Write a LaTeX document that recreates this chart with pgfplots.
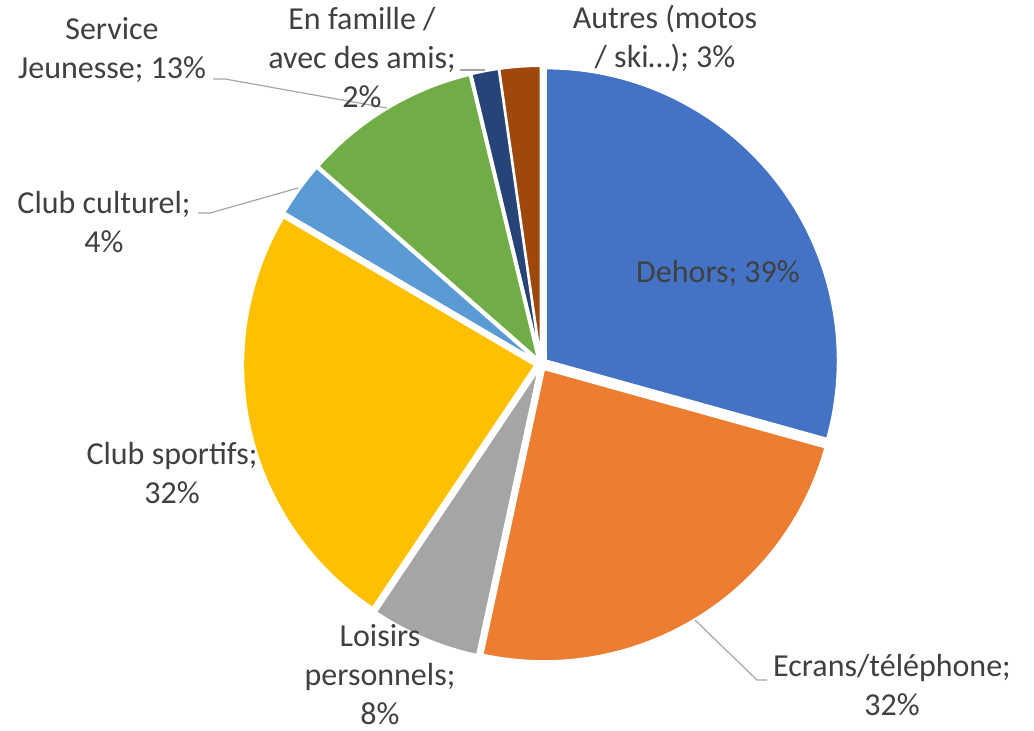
\documentclass[border=0pt]{standalone}
\usepackage{fontspec}
\setmainfont{Carlito}
\usepackage{pgfplots}
\pgfplotsset{compat=1.18}
\definecolor{pieA}{HTML}{4472C4}
\definecolor{pieB}{HTML}{ED7D31}
\definecolor{pieC}{HTML}{A5A5A5}
\definecolor{pieD}{HTML}{FFC000}
\definecolor{pieE}{HTML}{5B9BD5}
\definecolor{pieF}{HTML}{70AD47}
\definecolor{pieG}{HTML}{264478}
\definecolor{pieH}{HTML}{9E480E}
\definecolor{lbl}{HTML}{404040}
\definecolor{lead}{HTML}{A6A6A6}
% #1 cumulative value before the slice, #2 value of the slice, #3 colour (total 133)
\newcommand{\pieslice}[3]{%
  \pgfmathsetmacro\aA{90-(#1+#2)/133*360}%
  \pgfmathsetmacro\aB{90-(#1)/133*360}%
  \pgfmathsetmacro\aM{(\aA+\aB)/2}%
  \pgfmathsetmacro\ox{541+6*cos(\aM)}%
  \pgfmathsetmacro\oy{364-6*sin(\aM)}%
  \edef\temp{\noexpand\addplot[fill=#3, draw=white, line width=1pt, domain=\aA:\aB, samples=90] ({\ox+292*cos(x)},{\oy-292*sin(x)}) -- (axis cs:\ox,\oy) -- cycle;}%
  \temp
}
\begin{document}
\begin{tikzpicture}
\begin{axis}[scale only axis, width=517pt, height=365pt,
  xmin=0, xmax=1034, ymin=0, ymax=730, y dir=reverse,
  hide axis, clip=false]
\path (axis cs:0,0) rectangle (axis cs:1034,730);
% values: Dehors 39, Ecrans 32, Loisirs 8, Club sportifs 32, Club culturel 4, Service Jeunesse 13, En famille 2, Autres 3
\pieslice{0}{39}{pieA}
\pieslice{39}{32}{pieB}
\pieslice{71}{8}{pieC}
\pieslice{79}{32}{pieD}
\pieslice{111}{4}{pieE}
\pieslice{115}{13}{pieF}
\pieslice{128}{2}{pieG}
\pieslice{130}{3}{pieH}
% leader lines
\draw[lead, line width=0.6pt] (axis cs:695,620) -- (axis cs:757,680) -- (axis cs:767,680);
\draw[lead, line width=0.6pt] (axis cs:198,213) -- (axis cs:210,213) -- (axis cs:298,188);
\draw[lead, line width=0.6pt] (axis cs:213,79) -- (axis cs:225,79) -- (axis cs:387,108);
\draw[lead, line width=0.6pt] (axis cs:460,70) -- (axis cs:485,70);
% labels
\tikzset{lab/.style={text=lbl, align=center, font=\fontsize{16}{19.5}\selectfont, inner sep=0pt}}
\node[lab] at (axis cs:718,273) {Dehors; 39\%};
\node[lab] at (axis cs:892,685) {Ecrans/téléphone;\\32\%};
\node[lab] at (axis cs:380,675) {Loisirs\\personnels;\\8\%};
\node[lab] at (axis cs:172,473) {Club sportifs;\\32\%};
\node[lab] at (axis cs:104,222) {Club culturel;\\4\%};
\node[lab] at (axis cs:112,50) {Service\\Jeunesse; 13\%};
\node[lab] at (axis cs:362,58) {En famille /\\avec des amis;\\2\%};
\node[lab] at (axis cs:665,39) {Autres (motos\\/ ski…); 3\%};
\end{axis}
\end{tikzpicture}
\end{document}
